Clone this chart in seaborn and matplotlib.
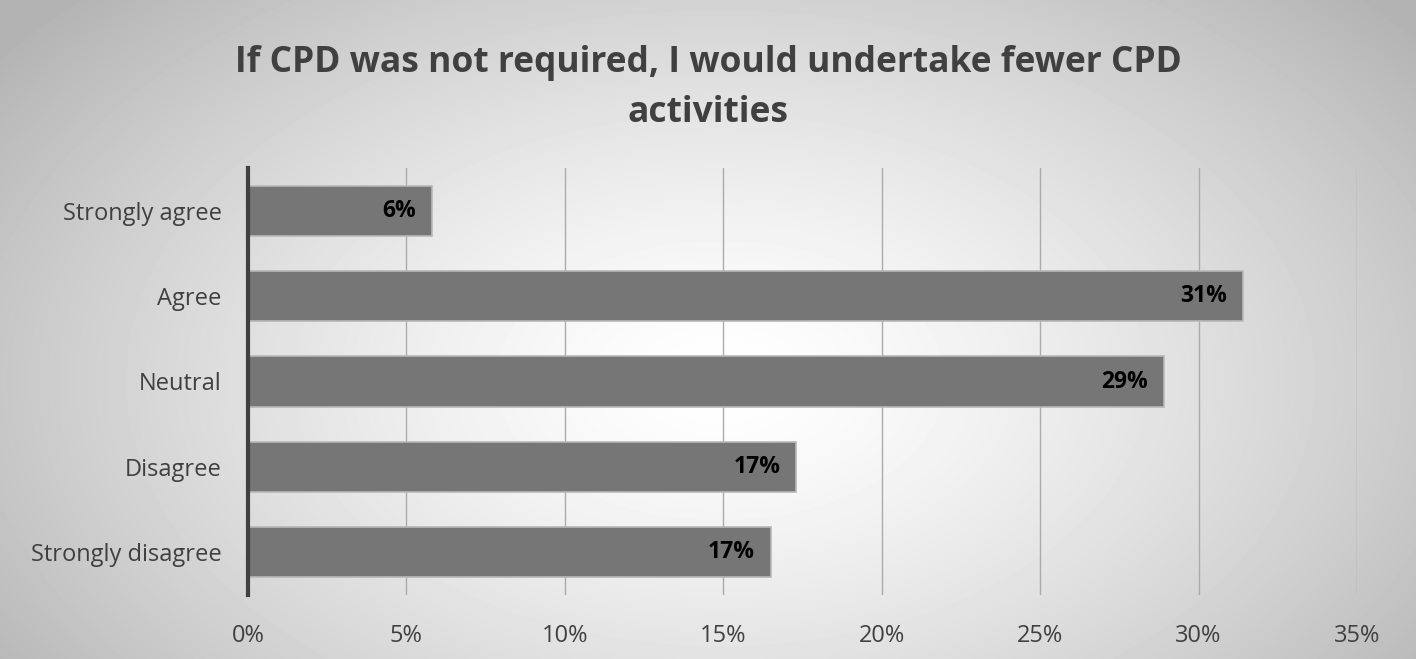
import matplotlib
matplotlib.use("Agg")
import matplotlib.pyplot as plt
import numpy as np
import pandas as pd
import seaborn as sns

categories = ["Strongly agree", "Agree", "Neutral", "Disagree", "Strongly disagree"]
values = [5.8, 31.4, 28.9, 17.3, 16.5]
value_labels = ["6%", "31%", "29%", "17%", "17%"]
tick_values = [0, 5, 10, 15, 20, 25, 30, 35]
tick_labels = ["0%", "5%", "10%", "15%", "20%", "25%", "30%", "35%"]
title = "If CPD was not required, I would undertake fewer CPD\nactivities"

sns.set_style("white")
plt.rcParams['font.family'] = ['Open Sans', 'DejaVu Sans']

df = pd.DataFrame({"response": categories, "pct": values})

fig = plt.figure(figsize=(14.16, 6.59), dpi=100)

# radial gradient background
bg = fig.add_axes([0, 0, 1, 1], zorder=-10)
yy, xx = np.mgrid[0:659, 0:1416]
r = np.sqrt(((xx - 720) / 900.0) ** 2 + ((yy - 380) / 560.0) ** 2)
shade = 1.0 - 0.30 * np.clip(r, 0, 1) ** 1.4
bg.imshow(shade, cmap="gray", vmin=0, vmax=1, aspect="auto", extent=[0, 1, 0, 1])
bg.set_axis_off()

ax = fig.add_axes([248 / 1416, 1 - 595 / 659, (1357 - 248) / 1416, (595 - 168) / 659])
ax.set_facecolor("none")

sns.barplot(data=df, x="pct", y="response", orient="h", color="#767676",
            saturation=1, width=0.59, edgecolor="#b8b8b8", linewidth=1.2, ax=ax)

for patch, lab in zip(ax.patches, value_labels):
    ax.text(patch.get_width() - 0.5, patch.get_y() + patch.get_height() / 2, lab,
            ha="right", va="center", fontsize=16.5, fontweight="bold", color="black")

ax.set_xlim(0, 35)
ax.set_xticks(tick_values)
ax.set_xticklabels(tick_labels, fontsize=17, color="#404040")
ax.tick_params(axis="y", labelsize=17, labelcolor="#404040", length=0, pad=19)
ax.tick_params(axis="x", length=0, pad=21)
ax.xaxis.grid(True, color="#ababab", linewidth=1)
ax.set_axisbelow(True)
ax.set_xlabel("")
ax.set_ylabel("")
for s in ["top", "right", "bottom"]:
    ax.spines[s].set_visible(False)
ax.spines["left"].set_color("#404040")
ax.spines["left"].set_linewidth(3)

fig.text(0.5, 1 - 88 / 659, title, ha="center", va="center", fontsize=25.5,
         fontweight="bold", color="#404040", linespacing=1.55)

fig.savefig("out.png", dpi=100)
